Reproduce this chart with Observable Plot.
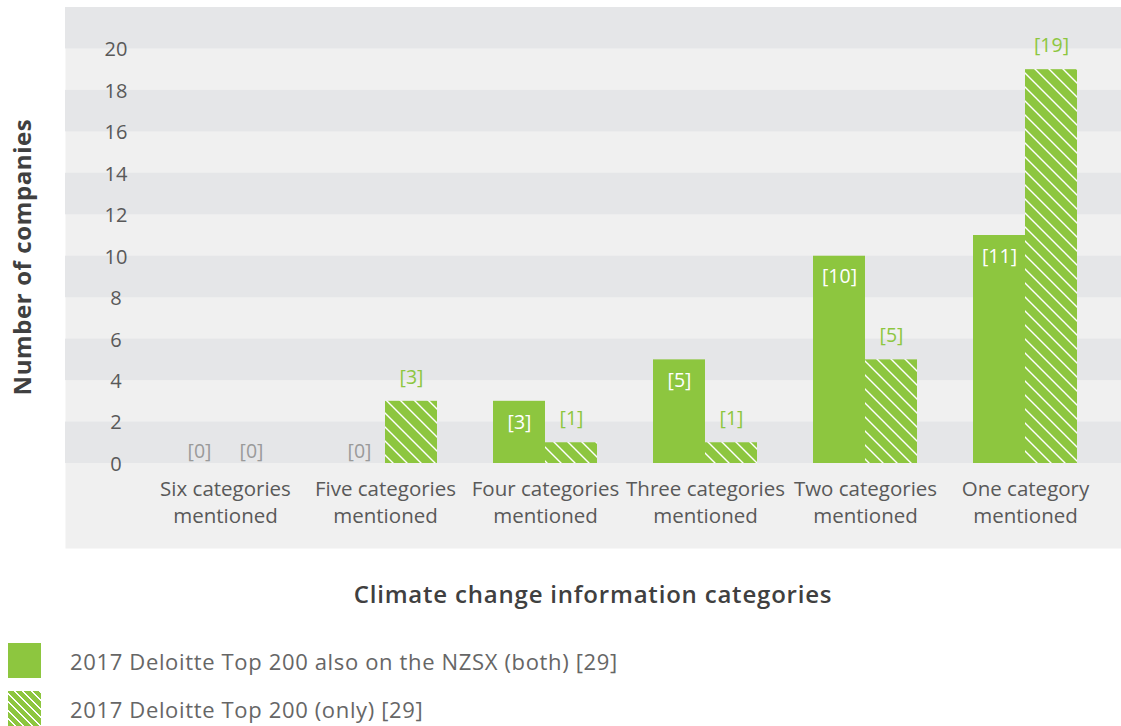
<!DOCTYPE html>
<html>
<head>
<meta charset="utf-8">
<script src="https://cdn.jsdelivr.net/npm/d3@7"></script>
<script src="https://cdn.jsdelivr.net/npm/@observablehq/plot@0.6"></script>
<style>
  html, body { margin: 0; padding: 0; background: #fff; }
  body { width: 1121px; height: 726px; position: relative; overflow: hidden; font-family: "Open Sans", Lato, sans-serif; }
  #chart { position: absolute; left: 0; top: 0; }
  .xtitle { position: absolute; left: 65px; width: 1056px; top: 579px; text-align: center; font-size: 24px; font-weight: 600; color: #404040; line-height: 30px; letter-spacing: 0.8px; }
  .ytitle { position: absolute; left: 22px; top: 257px; transform: translate(-50%, -50%) rotate(-90deg); white-space: nowrap; font-size: 24px; font-weight: 700; color: #404040; line-height: 30px; letter-spacing: 0.6px; }
  .leg { position: absolute; left: 8px; height: 35px; display: flex; align-items: center; }
  .sw { width: 33px; height: 35px; }
  .leg span { position: absolute; left: 62px; white-space: nowrap; font-size: 22px; color: #666; letter-spacing: 0.65px; }
</style>
</head>
<body>
<div id="chart"></div>
<div class="ytitle" id="ytitle"></div>
<div class="xtitle" id="xtitle"></div>
<div class="leg" style="top:643px"><div class="sw" style="background:#8dc63f"></div><span id="leg0"></span></div>
<div class="leg" style="top:691px"><div class="sw" style="background:repeating-linear-gradient(45deg,#8dc63f 0 4.6px,#fff 4.6px 6px)"></div><span id="leg1"></span></div>
<script>
const categories = [
  "Six categories\nmentioned",
  "Five categories\nmentioned",
  "Four categories\nmentioned",
  "Three categories\nmentioned",
  "Two categories\nmentioned",
  "One category\nmentioned"
];
const bothValues = [0, 0, 3, 5, 10, 11];
const onlyValues = [0, 3, 1, 1, 5, 19];
const yTicks = [0, 2, 4, 6, 8, 10, 12, 14, 16, 18, 20];
const bandStarts = [0, 4, 8, 12, 16, 20];
const yLabel = "Number of companies";
const xLabel = "Climate change information categories";
const seriesNames = [
  "2017 Deloitte Top 200 also on the NZSX (both) [29]",
  "2017 Deloitte Top 200 (only) [29]"
];

document.getElementById("ytitle").textContent = yLabel;
document.getElementById("xtitle").textContent = xLabel;
document.getElementById("leg0").textContent = seriesNames[0];
document.getElementById("leg1").textContent = seriesNames[1];

const both = categories.map((c, i) => ({cat: c, value: bothValues[i]}));
const only = categories.map((c, i) => ({cat: c, value: onlyValues[i]}));

const green = "#8dc63f";
const fmt = d => `[${d.value}]`;

const svg = Plot.plot({
  width: 1121,
  height: 548,
  marginLeft: 65,
  marginTop: 7,
  marginRight: 0,
  marginBottom: 0,
  style: {fontFamily: "'Open Sans', Lato, sans-serif", background: "transparent", overflow: "visible"},
  x: {domain: categories, range: [142.6, 1107.4], paddingInner: 0.353, paddingOuter: 0.1765, axis: null},
  y: {domain: [0, 22], range: [463, 7], axis: null},
  marks: [
    Plot.frame({fill: "#f0f0f0", stroke: null}),
    Plot.rect(bandStarts, {y1: d => d, y2: d => d + 2, fill: "#e5e6e8"}),
    Plot.axisY(yTicks, {anchor: "left", tickSize: 0, tickPadding: 0, textAnchor: "middle", dx: 50.5, dy: 1, fontSize: 20, fill: "#595959", label: null}),
    Plot.barY(both, {x: "cat", y: "value", fill: green, insetRight: 52}),
    Plot.barY(only, {x: "cat", y: "value", fill: "url(#hatch)", insetLeft: 52}),
    Plot.text(both.filter(d => d.value > 0), {x: "cat", y: "value", text: fmt, dx: -26, dy: 21, fontSize: 19.5, fill: "#fff"}),
    Plot.text(only.filter(d => d.value > 0), {x: "cat", y: "value", text: fmt, dx: 26, dy: -24, fontSize: 19.5, fill: green}),
    Plot.text(both.filter(d => d.value === 0), {x: "cat", y: "value", text: fmt, dx: -26, dy: -12, fontSize: 19.5, fill: "#9a9a9a"}),
    Plot.text(only.filter(d => d.value === 0), {x: "cat", y: "value", text: fmt, dx: 26, dy: -12, fontSize: 19.5, fill: "#9a9a9a"}),
    Plot.text(categories, {x: d => d, y: 0, text: d => d, lineAnchor: "top", lineHeight: 1.3, dy: 14, fontSize: 20.5, fill: "#595959"})
  ]
});

d3.select(svg).insert("defs", ":first-child").html(
  `<pattern id="hatch" patternUnits="userSpaceOnUse" width="14" height="14">
     <rect width="14" height="14" fill="${green}"></rect>
     <path d="M0,0L14,14M-3,11L3,17M11,-3L17,3" stroke="#fff" stroke-width="1.4"></path>
   </pattern>`
);

document.getElementById("chart").appendChild(svg);
</script>
</body>
</html>
